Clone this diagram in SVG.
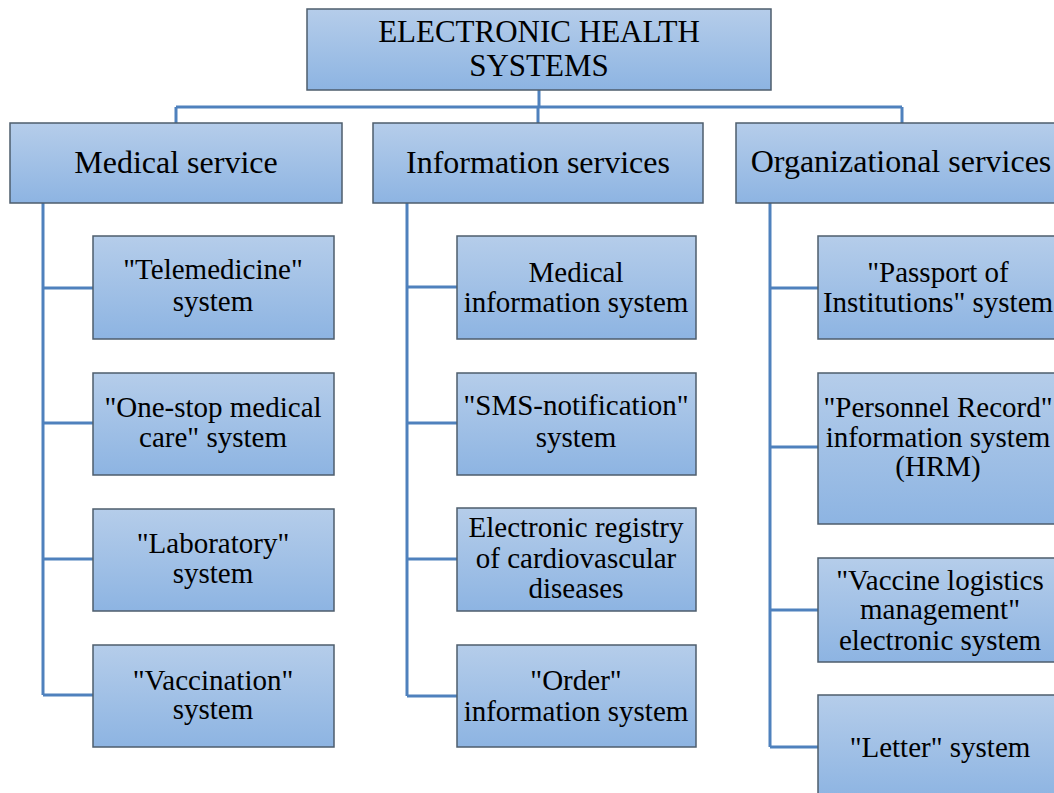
<svg xmlns="http://www.w3.org/2000/svg" width="1054" height="793" viewBox="0 0 1054 793">
<defs>
<linearGradient id="g" x1="0" y1="0" x2="0" y2="1">
<stop offset="0" stop-color="#b5cdea"/>
<stop offset="1" stop-color="#8db4e2"/>
</linearGradient>
</defs>
<style>
.box{fill:url(#g);stroke:#4e5d6c;stroke-width:1.5}
.h{font-family:"Liberation Serif","Times New Roman",serif;font-size:32px;fill:#000;text-anchor:middle}
.t{font-size:31px}
.c{font-family:"Liberation Serif","Times New Roman",serif;font-size:29px;fill:#000;text-anchor:middle}
.ln{fill:none;stroke:#4f81bd;stroke-width:3}
</style>
<rect width="1054" height="793" fill="#fff"/>
<g id="connectors">
<path class="ln" d="M539 90V107M176 107H902M176 107V123M538 107V123M902 107V123"/>
<path class="ln" d="M43 203V695M43 288H93M43 423H93M43 559H93M43 695H93"/>
<path class="ln" d="M407 203V696M407 287H457M407 423H457M407 559H457M407 696H457"/>
<path class="ln" d="M770 203V747M770 288H818M770 447H818M770 610H818M770 747H818"/>
</g>
<g id="root"><rect class="box" x="307" y="9" width="464" height="81"/><text class="h t" x="539" y="42">ELECTRONIC HEALTH</text><text class="h t" x="539" y="76">SYSTEMS</text></g>
<g id="medical"><rect class="box" x="10" y="123" width="332" height="80"/><text class="h" x="176" y="173">Medical service</text></g>
<g id="information"><rect class="box" x="373" y="123" width="330" height="80"/><text class="h" x="538" y="173">Information services</text></g>
<g id="organizational"><rect class="box" x="736" y="123" width="330" height="80"/><text class="h" x="901" y="172">Organizational services</text></g>
<g id="telemedicine"><rect class="box" x="93" y="236" width="241" height="103"/><text class="c" x="213" y="279">"Telemedicine"</text><text class="c" x="213" y="311">system</text></g>
<g id="onestop"><rect class="box" x="93" y="373" width="241" height="102"/><text class="c" x="213" y="417">"One-stop medical</text><text class="c" x="213" y="447">care" system</text></g>
<g id="laboratory"><rect class="box" x="93" y="509" width="241" height="102"/><text class="c" x="213" y="553">"Laboratory"</text><text class="c" x="213" y="583">system</text></g>
<g id="vaccination"><rect class="box" x="93" y="645" width="241" height="102"/><text class="c" x="213" y="690">"Vaccination"</text><text class="c" x="213" y="719">system</text></g>
<g id="mis"><rect class="box" x="457" y="236" width="239" height="103"/><text class="c" x="576" y="282">Medical</text><text class="c" x="576" y="312">information system</text></g>
<g id="sms"><rect class="box" x="457" y="373" width="239" height="102"/><text class="c" x="576" y="415">"SMS-notification"</text><text class="c" x="576" y="447">system</text></g>
<g id="registry"><rect class="box" x="457" y="508" width="239" height="103"/><text class="c" x="576" y="537">Electronic registry</text><text class="c" x="576" y="568">of cardiovascular</text><text class="c" x="576" y="598">diseases</text></g>
<g id="order"><rect class="box" x="457" y="645" width="239" height="102"/><text class="c" x="576" y="690">"Order"</text><text class="c" x="576" y="721">information system</text></g>
<g id="passport"><rect class="box" x="818" y="236" width="240" height="103"/><text class="c" x="938" y="282">"Passport of</text><text class="c" x="938" y="312">Institutions" system</text></g>
<g id="personnel"><rect class="box" x="818" y="373" width="240" height="151"/><text class="c" x="938" y="417">"Personnel Record"</text><text class="c" x="938" y="447">information system</text><text class="c" x="938" y="476">(HRM)</text></g>
<g id="vaccine"><rect class="box" x="818" y="558" width="240" height="104"/><text class="c" x="940" y="590">"Vaccine logistics</text><text class="c" x="940" y="619">management"</text><text class="c" x="940" y="650">electronic system</text></g>
<g id="letter"><rect class="box" x="818" y="695" width="240" height="104"/><text class="c" x="940" y="757">"Letter" system</text></g>
</svg>
